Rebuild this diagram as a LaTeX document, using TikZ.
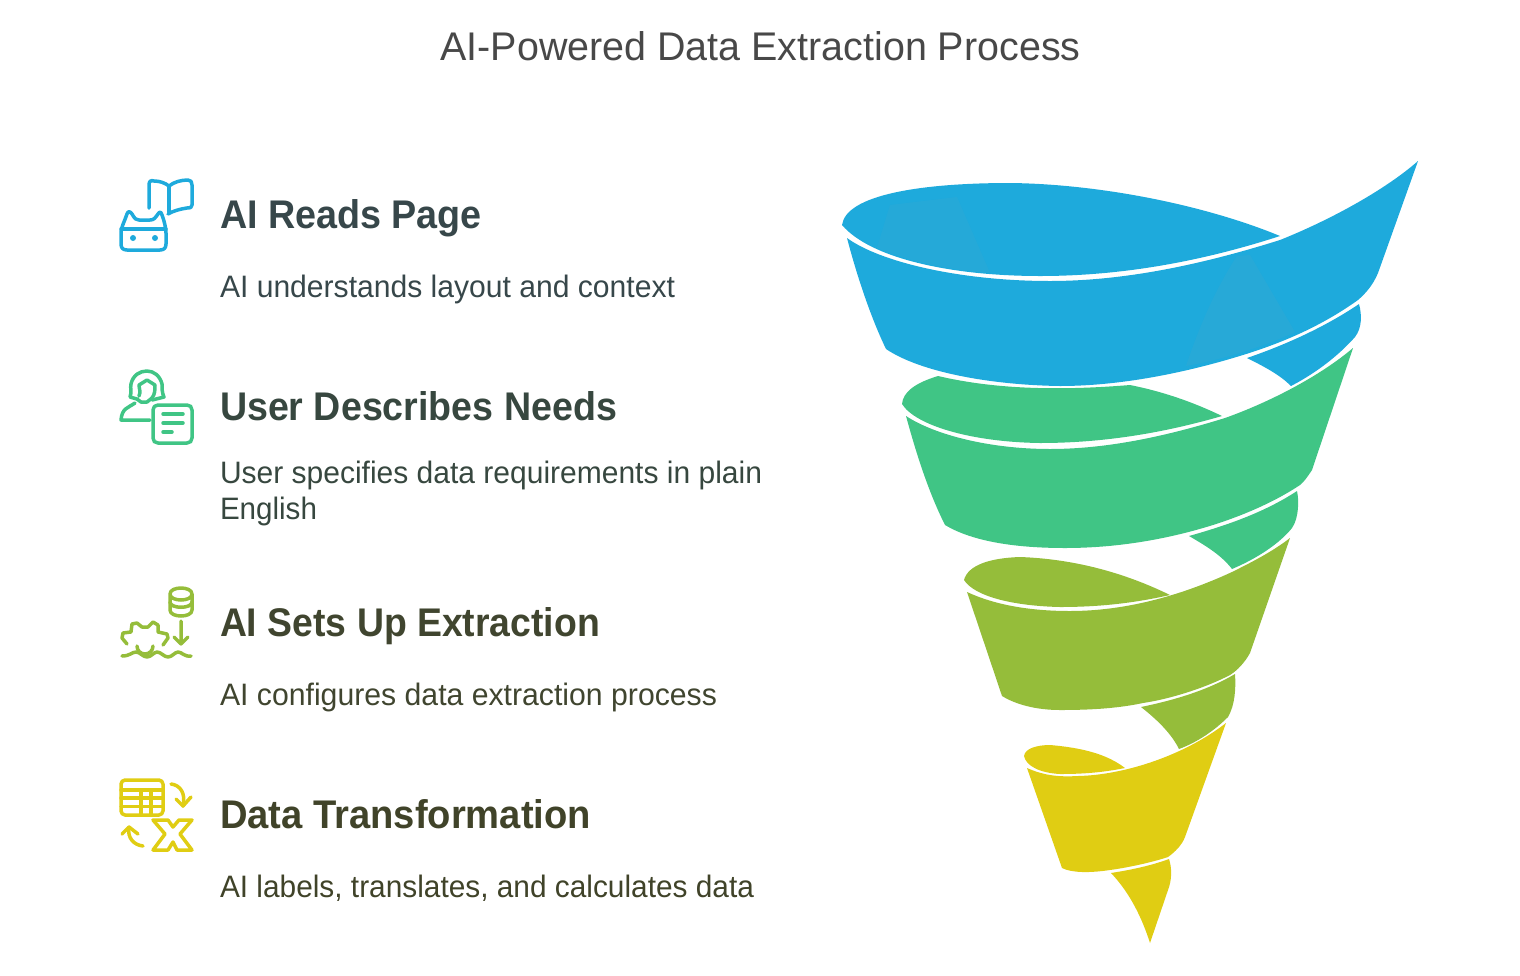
\documentclass[tikz,border=0pt]{standalone}
\usepackage{graphicx}
\usepackage{fontspec}
\setmainfont{Liberation Sans}
\definecolor{cblue}{HTML}{1EAADC}
\definecolor{cgreen}{HTML}{40C585}
\definecolor{colive}{HTML}{95BD3A}
\definecolor{cyellow}{HTML}{E0CD13}
\definecolor{cshade}{HTML}{2BA9D6}
\definecolor{ttitle}{HTML}{484848}
\definecolor{tone}{HTML}{37474A}
\definecolor{ttwo}{HTML}{37473F}
\definecolor{tthree}{HTML}{40452F}
\definecolor{tfour}{HTML}{404329}
\newcommand{\fitw}[2]{\resizebox{#1pt}{\height}{#2}}
\tikzset{
  txt/.style={anchor=base west,inner sep=0pt,outer sep=0pt},
  head/.style={txt,font=\fontsize{40}{40}\selectfont\bfseries},
  bodytxt/.style={txt,font=\fontsize{31}{31}\selectfont},
  ico/.style={line width=3.5pt,line cap=round,line join=round},
}
\begin{document}
\begin{tikzpicture}[x=1pt,y=-1pt]
\useasboundingbox (0,0) rectangle (1520,975);
\node[txt,anchor=base,text=ttitle,font=\fontsize{40}{40}\selectfont] (title) at (760.500,60) {\fitw{640}{AI-Powered Data Extraction Process}};

\node[head,text=tone] (h1) at (220,228) {\fitw{262}{AI Reads Page}};
\node[bodytxt,text=tone] (b1) at (220,297) {\fitw{455}{AI understands layout and context}};
\node[head,text=ttwo] (h2) at (220,420) {\fitw{397}{User Describes Needs}};
\node[bodytxt,text=ttwo] (b2a) at (220,483) {\fitw{542}{User specifies data requirements in plain}};
\node[bodytxt,text=ttwo] (b2b) at (220,519) {\fitw{97}{English}};
\node[head,text=tthree] (h3) at (220,636) {\fitw{380}{AI Sets Up Extraction}};
\node[bodytxt,text=tthree] (b3) at (220,705) {\fitw{497}{AI configures data extraction process}};
\node[head,text=tfour] (h4) at (220,828) {\fitw{371}{Data Transformation}};
\node[bodytxt,text=tfour] (b4) at (220,897) {\fitw{534}{AI labels, translates, and calculates data}};

% ---- funnel: blue
\fill[cblue] (842,225) .. controls (846,195) and (920,183) .. (1010,183) .. controls (1100,184) and (1205,205) .. (1280,236) .. controls (1200,262) and (1120,276) .. (1040,276) .. controls (950,276) and (870,258) .. (842,225) -- cycle;
\fill[cblue] (847,238) .. controls (880,262) and (960,281) .. (1050,281) .. controls (1130,281) and (1210,262) .. (1280,240) .. controls (1330,220) and (1385,190) .. (1418,161) -- (1378,273) .. controls (1373,285) and (1366,293) .. (1358,300) .. controls (1323,325) and (1285,342) .. (1243,355) .. controls (1185,373) and (1120,386) .. (1060,386) .. controls (990,385) and (920,372) .. (886,349) .. controls (872,320) and (858,280) .. (847,238) -- cycle;
\fill[cblue] (1359,304) .. controls (1362,315) and (1362,328) .. (1355,337) .. controls (1340,354) and (1318,372) .. (1291,386) .. controls (1280,375) and (1265,367) .. (1247,358) .. controls (1285,345) and (1325,327) .. (1359,304) -- cycle;
\fill[cshade,opacity=.55] (877,248) -- (890,205) -- (957,197) -- (990,273) .. controls (950,270) and (910,262) .. (877,248) -- cycle;
\fill[cshade,opacity=.7] (1186,366) .. controls (1200,325) and (1215,290) .. (1237,256) -- (1250,255) -- (1295,332) .. controls (1265,346) and (1225,359) .. (1186,366) -- cycle;

% ---- funnel: green
\fill[cgreen] (938,376) .. controls (985,387) and (1045,392) .. (1130,385) .. controls (1165,392) and (1195,403) .. (1222,416) .. controls (1160,434) and (1100,443) .. (1040,443) .. controls (970,442) and (915,425) .. (902,404) .. controls (903,392) and (915,383) .. (938,376) -- cycle;
\fill[cgreen] (906,416) .. controls (935,435) and (990,449) .. (1050,449) .. controls (1110,449) and (1170,435) .. (1225,418) .. controls (1270,402) and (1320,376) .. (1353,348) -- (1312,470) .. controls (1308,476) and (1304,482) .. (1300,485) .. controls (1270,505) and (1235,518) .. (1213,525) .. controls (1165,540) and (1115,548) .. (1065,548) .. controls (1010,548) and (970,540) .. (945,525) .. controls (930,495) and (918,460) .. (906,416) -- cycle;
\fill[cgreen] (1297,491) .. controls (1299,500) and (1299,518) .. (1292,528) .. controls (1280,543) and (1258,558) .. (1232,569) .. controls (1222,556) and (1208,547) .. (1189,536) .. controls (1228,525) and (1265,512) .. (1297,491) -- cycle;

% ---- funnel: olive
\fill[colive] (964,580) .. controls (968,565) and (990,558) .. (1020,557) .. controls (1075,559) and (1125,573) .. (1170,595) .. controls (1130,604) and (1095,607) .. (1060,607) .. controls (1015,606) and (975,597) .. (964,580) -- cycle;
\fill[colive] (967,592) .. controls (995,605) and (1030,611) .. (1070,611) .. controls (1125,611) and (1180,596) .. (1232,572) .. controls (1250,563) and (1272,552) .. (1290,538) -- (1250,653) .. controls (1245,662) and (1238,670) .. (1230,675) .. controls (1205,688) and (1170,699) .. (1143,703) .. controls (1115,709) and (1085,710) .. (1060,710) .. controls (1035,710) and (1015,704) .. (1002,696) -- cycle;
\fill[colive] (1235,674) .. controls (1236,688) and (1235,705) .. (1228,717) .. controls (1215,730) and (1198,742) .. (1179,749) .. controls (1172,735) and (1160,722) .. (1141,707) .. controls (1175,700) and (1208,690) .. (1235,674) -- cycle;

% ---- funnel: yellow
\fill[cyellow] (1024,756) .. controls (1025,748) and (1038,745) .. (1050,745) .. controls (1085,748) and (1108,755) .. (1125,768) .. controls (1100,773) and (1080,774) .. (1060,774) .. controls (1040,773) and (1026,766) .. (1024,756) -- cycle;
\fill[cyellow] (1027,768) .. controls (1045,776) and (1060,777) .. (1078,776) .. controls (1125,775) and (1185,755) .. (1226,723) -- (1185,837) .. controls (1182,845) and (1175,852) .. (1168,857) .. controls (1150,863) and (1125,868) .. (1110,870) .. controls (1090,873) and (1072,873) .. (1062,868) -- cycle;
\fill[cyellow] (1169,859) .. controls (1172,868) and (1172,880) .. (1168,890) -- (1150,943) .. controls (1142,918) and (1130,893) .. (1111,873) .. controls (1130,870) and (1150,866) .. (1169,859) -- cycle;

% ---- icon 1
\begin{scope}[ico]
\draw[cblue] (149,208) -- (149,185) .. controls (149,181) and (151,180) .. (154,181) .. controls (160,181) and (165,183) .. (169,186) .. controls (174,182) and (181,180) .. (188,180) .. controls (191,180) and (192,182) .. (192,185) -- (192,205) .. controls (192,208) and (190,208) .. (187,208) .. controls (180,209) and (173,211) .. (168,214);
\draw[cblue] (169,186) -- (169,212);
\draw[cblue] (121,232) .. controls (121,228) and (125,220) .. (127,214) .. controls (128,211) and (130,211) .. (132,214) .. controls (135,219) and (136,220) .. (139,220) -- (150,220) .. controls (154,220) and (155,218) .. (158,214) .. controls (160,211) and (161,212) .. (162,215) .. controls (164,220) and (166,228) .. (166,233) -- (166,244) .. controls (166,248) and (164,250) .. (160,250) -- (127,250) .. controls (123,250) and (121,248) .. (121,244) -- cycle;
\draw[cblue] (121,229) -- (166,229);
\fill[cblue] (133,238) circle (3pt) (155,238) circle (3pt);
\end{scope}

% ---- icon 2
\begin{scope}[ico]
\draw[cgreen] (137,399) -- (130,397) .. controls (132,392) and (130,388) .. (131,384) .. controls (133,375) and (140,371) .. (147,371) .. controls (154,371) and (160,376) .. (162,384) .. controls (162,388) and (162,393) .. (164,397) -- (152,400);
\draw[cgreen] (139,396) .. controls (141,392) and (139,388) .. (139,385) -- (147,380) -- (155,385) .. controls (155,390) and (155,394) .. (152,398) -- (147,402) -- (141,402) -- (137,399);
\draw[cgreen] (135,403) .. controls (128,408) and (122,408) .. (121,420) -- (150,420);
\draw[cgreen] (158,405) -- (187,405) .. controls (190,405) and (192,407) .. (192,410) -- (192,438) .. controls (192,441) and (190,443) .. (187,443) -- (158,443) .. controls (155,443) and (153,441) .. (153,438) -- (153,410) .. controls (153,407) and (155,405) .. (158,405) -- cycle;
\draw[cgreen] (163,414) -- (183,414) (163,423) -- (183,423) (163,432) -- (172,432);
\end{scope}

% ---- icon 3
\begin{scope}[ico]
\draw[colive] (170,594) .. controls (170,586) and (192,586) .. (192,594) .. controls (192,602) and (170,602) .. (170,594) -- (170,610) .. controls (170,618) and (192,618) .. (192,610) -- (192,594);
\draw[colive] (170,602) .. controls (170,609) and (192,609) .. (192,602);
\draw[colive] (181,621) -- (181,644) (174,637) -- (181,644) -- (188,637);
\draw[colive] (127,644) -- (122,638) -- (123,633) -- (131,632) -- (132,624) -- (137,623) -- (142,627) -- (148,627) -- (153,622) -- (158,625) -- (158,632) -- (167,634) -- (168,638) -- (163,645);
\draw[colive] (137,646) arc[start angle=180,end angle=0,radius=8];
\draw[colive] (122,656) .. controls (130,656) and (132,652) .. (136,652) .. controls (140,652) and (143,657) .. (147,657) .. controls (151,657) and (154,652) .. (157,652) .. controls (161,652) and (164,657) .. (168,657) .. controls (172,657) and (175,652) .. (178,652) .. controls (182,652) and (184,657) .. (191,656);
\end{scope}

% ---- icon 4
\begin{scope}[ico]
\draw[cyellow] (125,780) -- (159,780) .. controls (161,780) and (163,782) .. (163,784) -- (163,811) .. controls (163,813) and (161,815) .. (159,815) -- (125,815) .. controls (123,815) and (121,813) .. (121,811) -- (121,784) .. controls (121,782) and (123,780) .. (125,780) -- cycle;
\draw[cyellow] (121,790) -- (163,790) (121,798) -- (163,798) (121,806.500) -- (163,806.500) (141,790) -- (141,815) (151,790) -- (151,815);
\draw[cyellow] (171,784) .. controls (180,785) and (186,793) .. (183,806);
\draw[cyellow] (176,799) -- (183,806) -- (191,797);
\draw[cyellow] (143,846) .. controls (134,845) and (127,838) .. (129,827);
\draw[cyellow] (122,834) -- (129,827) -- (138,834);
\draw[cyellow] (153,820) -- (168,820) -- (173,827) -- (179,820) -- (192,820) -- (180,834) -- (192,850) -- (177,850) -- (173,842) -- (168,850) -- (153,850) -- (165,834) -- cycle;
\end{scope}
\end{tikzpicture}
\end{document}
